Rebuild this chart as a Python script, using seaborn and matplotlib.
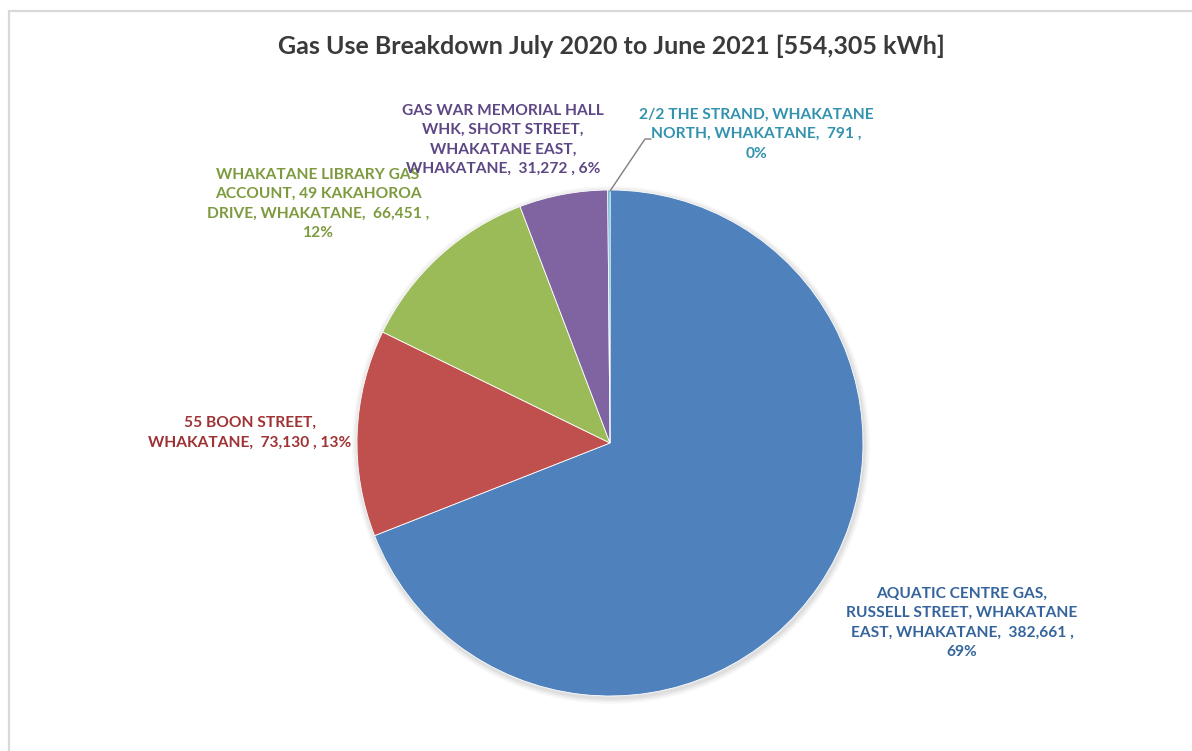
import matplotlib
matplotlib.use("Agg")
import matplotlib.pyplot as plt
import seaborn as sns
from matplotlib.patches import Rectangle

sns.set_theme(style="white")
plt.rcParams["font.family"] = ["Lato", "DejaVu Sans"]

# Gas use per site, kWh (July 2020 - June 2021)
sites = [
    "AQUATIC CENTRE GAS,\nRUSSELL STREET, WHAKATANE\nEAST, WHAKATANE",
    "55 BOON STREET,\nWHAKATANE",
    "WHAKATANE LIBRARY GAS\nACCOUNT, 49 KAKAHOROA\nDRIVE, WHAKATANE",
    "GAS WAR MEMORIAL HALL\nWHK, SHORT STREET,\nWHAKATANE EAST,\nWHAKATANE",
    "2/2 THE STRAND, WHAKATANE\nNORTH, WHAKATANE",
]
usage_kwh = [382661, 73130, 66451, 31272, 791]
slice_colors = ["#4F81BD", "#C0504D", "#9BBB59", "#8064A2", "#4BACC6"]
label_colors = ["#35649C", "#9E3234", "#7D9B3E", "#5E4785", "#3393AE"]
title = "Gas Use Breakdown July 2020 to June 2021 [554,305 kWh]"

W, H = 1192, 751
fig = plt.figure(figsize=(W / 100, H / 100), dpi=100)
ax = fig.add_axes([0, 0, 1, 1])
ax.set_xlim(0, W)
ax.set_ylim(0, H)
ax.set_aspect("equal")
ax.axis("off")

# chart frame
ax.add_patch(Rectangle((9, -20), W + 40, H - 11 + 20, fill=False,
                       edgecolor="#D9D9D9", linewidth=1.6))

cx, cy, r = 610, H - 443, 253

# soft shadow under the pie
for i, a in enumerate([0.025, 0.03, 0.035, 0.04]):
    shadow = plt.Circle((cx + 1, cy - 2), r + 6 - 1.5 * i, color="#000000",
                        alpha=a, linewidth=0)
    ax.add_patch(shadow)

wedges, _ = ax.pie(usage_kwh, colors=slice_colors, startangle=90,
                   counterclock=False, radius=r, center=(cx, cy),
                   wedgeprops=dict(linewidth=0.6, edgecolor="white"))
ax.set_xlim(0, W)
ax.set_ylim(0, H)

total = sum(usage_kwh)
label_pos = [(962, H - 623), (250, H - 433), (318, H - 204), (503, H - 140), (756, H - 134)]
pct_on_new_line = [True, False, True, False, True]
for name, v, col, (lx, ly), nl in zip(sites, usage_kwh, label_colors, label_pos,
                                      pct_on_new_line):
    pct = round(100 * v / total)
    sep = "\n" if nl else " "
    txt = f"{name},  {v:,} ,{sep}{pct}%"
    ax.text(lx, ly, txt, ha="center", va="center", color=col, fontsize=11.2,
            fontweight="bold", linespacing=1.5, multialignment="center")

# leader line for the smallest slice
ax.plot([610, 645, 651], [H - 191, H - 139, H - 139], color="#7F7F7F", linewidth=1)

ax.text(611, H - 46, title, ha="center", va="center", color="#3A3A3A",
        fontsize=18, fontweight="bold")

fig.savefig("out.png", dpi=100, facecolor="white")
